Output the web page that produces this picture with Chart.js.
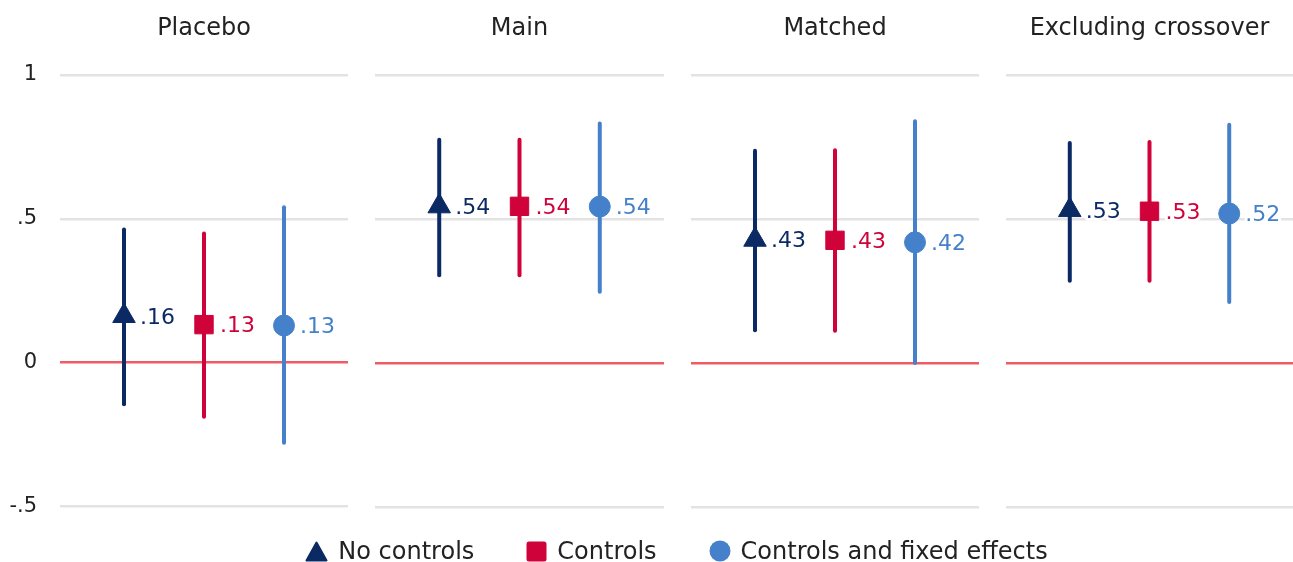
<!DOCTYPE html>
<html>
<head>
<meta charset="utf-8">
<script src="https://cdn.jsdelivr.net/npm/chart.js@4"></script>
<style>
  body { margin: 0; background: #fff; font-family: 'DejaVu Sans', sans-serif; }
  #wrap { position: relative; width: 1293px; height: 562px; overflow: hidden; }
  .panel { position: absolute; top: 0; height: 525px; }
  #legend { position: absolute; left: 60px; top: 536px; width: 1233px; height: 30px;
            display: flex; justify-content: center; align-items: center; color: #222; font-size: 24px; }
  .item { display: flex; align-items: center; margin: 0 26px; }
  .item svg { margin-right: 10px; }
</style>
</head>
<body>
<div id="wrap">
  <div class="panel" style="left:0;width:348px;height:542px"><canvas id="p0"></canvas></div>
  <div class="panel" style="left:375px;width:289px"><canvas id="p1"></canvas></div>
  <div class="panel" style="left:691px;width:288px"><canvas id="p2"></canvas></div>
  <div class="panel" style="left:1006px;width:287px"><canvas id="p3"></canvas></div>
  <div id="legend"></div>
</div>
<script>
// data
const panelTitles = ['Placebo', 'Main', 'Matched', 'Excluding crossover'];
const seriesNames = ['No controls', 'Controls', 'Controls and fixed effects'];

const noControlsEst  = [0.162, 0.544, 0.428, 0.531];
const noControlsLow  = [-0.145, 0.305, 0.114, 0.286];
const noControlsHigh = [0.463, 0.775, 0.737, 0.764];

const controlsEst  = [0.132, 0.544, 0.426, 0.527];
const controlsLow  = [-0.188, 0.305, 0.112, 0.286];
const controlsHigh = [0.449, 0.775, 0.739, 0.767];

const fixedEffectsEst  = [0.129, 0.543, 0.419, 0.519];
const fixedEffectsLow  = [-0.279, 0.247, 0.0, 0.212];
const fixedEffectsHigh = [0.540, 0.832, 0.839, 0.827];

const yTickValues = [-0.5, 0, 0.5, 1];
const yTickLabels = ['-.5', '0', '.5', '1'];

const FONT = "'DejaVu Sans', sans-serif";
const colors = ['#0b2a64', '#d0023a', '#4580ca'];
const pointStyles = ['triangle', 'rect', 'circle'];
const pointSizes = [13, 13, 10.5];

const allEst = [noControlsEst, controlsEst, fixedEffectsEst];
const allLow = [noControlsLow, controlsLow, fixedEffectsLow];
const allHigh = [noControlsHigh, controlsHigh, fixedEffectsHigh];

function fmt(v) {
    return v.toFixed(2).replace(/^0/, '').replace(/^-0/, '-');
}

// value labels to the right of each marker, with a white halo
const valueLabels = {
    id: 'valueLabels',
    afterDatasetsDraw(chart) {
        const ctx = chart.ctx;
        ctx.save();
        ctx.font = '22px ' + FONT;
        ctx.textBaseline = 'middle';
        ctx.textAlign = 'left';
        chart.data.datasets.forEach((ds, i) => {
            if (!ds.isMarker) return;
            const pt = chart.getDatasetMeta(i).data[0];
            const txt = fmt(ds.data[0].y);
            ctx.lineWidth = 6;
            ctx.lineJoin = 'round';
            ctx.strokeStyle = '#fff';
            ctx.strokeText(txt, pt.x + 16, pt.y + 2);
            ctx.fillStyle = ds.labelColor;
            ctx.fillText(txt, pt.x + 16, pt.y + 2);
        });
        ctx.restore();
    }
};

function makePanel(p) {
    const datasets = [];
    for (let s = 0; s < 3; s++) {
        datasets.push({
            type: 'scatter',
            label: seriesNames[s],
            isMarker: true,
            labelColor: colors[s],
            data: [{ x: s + 1, y: allEst[s][p] }],
            pointStyle: pointStyles[s],
            pointRadius: pointSizes[s],
            pointHoverRadius: pointSizes[s],
            backgroundColor: colors[s],
            borderColor: colors[s],
            borderWidth: 1,
            order: 1
        });
    }
    for (let s = 0; s < 3; s++) {
        datasets.push({
            type: 'line',
            label: seriesNames[s] + ' CI',
            data: [{ x: s + 1, y: allLow[s][p] }, { x: s + 1, y: allHigh[s][p] }],
            borderColor: colors[s],
            borderWidth: 4,
            borderCapStyle: 'round',
            pointRadius: 0,
            order: 2
        });
    }

    const first = p === 0;
    new Chart(document.getElementById('p' + p), {
        type: 'scatter',
        data: { datasets: datasets },
        plugins: [valueLabels],
        options: {
            responsive: true,
            maintainAspectRatio: false,
            animation: false,
            layout: { autoPadding: false, padding: { top: 0, bottom: 18, left: 0, right: 0 } },
            plugins: {
                legend: { display: false },
                tooltip: { enabled: false },
                title: {
                    display: true,
                    text: panelTitles[p],
                    fullSize: false,
                    color: '#222',
                    font: { family: FONT, size: 24, weight: 'normal', lineHeight: 1.2 },
                    padding: { top: 14, bottom: 32.2 }
                }
            },
            scales: {
                x: {
                    type: 'linear',
                    display: false,
                    min: 0.2,
                    max: 3.8
                },
                y: {
                    min: -0.5,
                    max: 1,
                    afterBuildTicks: function (scale) {
                        scale.ticks = yTickValues.map(v => ({ value: v }));
                    },
                    afterFit: function (scale) {
                        scale.width = first ? 60 : 0;
                    },
                    border: { display: false },
                    grid: {
                        drawTicks: false,
                        lineWidth: 2.5,
                        color: ctx => ctx.tick && ctx.tick.value === 0 ? '#ef5c66' : '#e3e3e3'
                    },
                    ticks: {
                        display: first,
                        padding: 23,
                        color: '#222',
                        font: { family: FONT, size: 21 },
                        callback: function (v) {
                            return yTickLabels[yTickValues.indexOf(v)];
                        }
                    }
                }
            }
        }
    });
}

for (let p = 0; p < panelTitles.length; p++) makePanel(p);

// legend
const shapes = [
    '<svg width="23" height="21"><path d="M11.5 1.5 L21.5 19.5 L1.5 19.5 Z" fill="' + colors[0] + '" stroke="' + colors[0] + '" stroke-width="2" stroke-linejoin="round"/></svg>',
    '<svg width="21" height="21"><rect x="0.5" y="0.5" width="20" height="20" rx="2.5" fill="' + colors[1] + '"/></svg>',
    '<svg width="22" height="22"><circle cx="11" cy="11" r="10.5" fill="' + colors[2] + '"/></svg>'
];
const legend = document.getElementById('legend');
seriesNames.forEach((name, i) => {
    const item = document.createElement('div');
    item.className = 'item';
    item.innerHTML = shapes[i] + '<span>' + name + '</span>';
    legend.appendChild(item);
});
</script>
</body>
</html>
